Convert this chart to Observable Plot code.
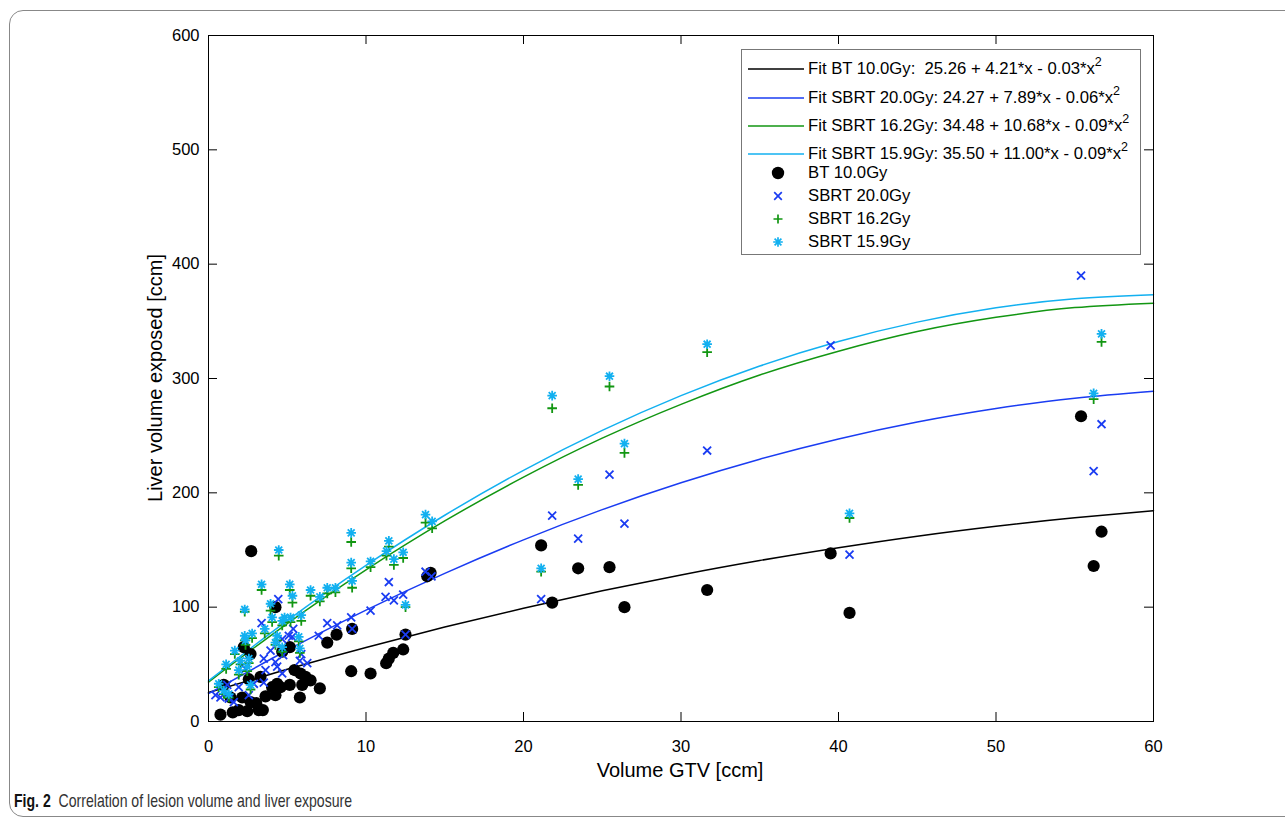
<!DOCTYPE html>
<html>
<head>
<meta charset="utf-8">
<script src="https://cdn.jsdelivr.net/npm/d3@7"></script>
<script src="https://cdn.jsdelivr.net/npm/@observablehq/plot@0.6"></script>
<style>
  html, body { margin: 0; padding: 0; background: #fff; width: 1285px; height: 820px; overflow: hidden; }
  #wrap { position: relative; width: 1285px; height: 820px; }
  #outer { position: absolute; left: 9px; top: 10px; width: 1300px; height: 805px; border: 1.3px solid #888; border-radius: 14px; }
  #chart { position: absolute; left: 0; top: 0; }
  #legend { position: absolute; left: 741px; top: 49px; width: 398px; height: 204px; border: 1px solid #777; background: #fff; font-family: "Liberation Sans", Arial, sans-serif; font-size: 16.7px; color: #000; }
  .row { position: absolute; left: 0; height: 22px; width: 396px; }
  .row svg { position: absolute; left: 6px; top: 0; }
  .row span { position: absolute; left: 66px; top: 1px; white-space: pre; line-height: 20px; }
  .row sup { font-size: 12.5px; vertical-align: 0; position: relative; top: -8px; }
  .axlabel { position: absolute; font-family: "Liberation Sans", Arial, sans-serif; font-size: 20px; color: #000; white-space: pre; }
  #xlabel { left: 680px; top: 770px; transform: translate(-50%, -50%); }
  #ylabel { left: 155px; top: 378px; transform: translate(-50%, -50%) rotate(-90deg); }
  #caption { position: absolute; left: 14px; top: 790px; font-family: "Liberation Sans", Arial, sans-serif; font-size: 19px; color: #333; white-space: pre; transform-origin: 0 0; }
  #caption b { color: #111; }
</style>
</head>
<body>
<div id="wrap">
  <div id="outer"></div>
  <div id="chart"></div>
  <div id="legend"></div>
  <div class="axlabel" id="xlabel"></div>
  <div class="axlabel" id="ylabel"></div>
  <div id="caption"><b>Fig. 2</b>  Correlation of lesion volume and liver exposure</div>
</div>
<script>
// ---------- data ----------
const xTicks = [0, 10, 20, 30, 40, 50, 60];
const yTicks = [0, 100, 200, 300, 400, 500, 600];
const xLabel = "Volume GTV [ccm]";
const yLabel = "Liver volume exposed [ccm]";

// BT 10.0Gy points [volume GTV, liver volume exposed]
const bt = [
  [0.76,6],[1.54,8],[1.92,10],[2.46,9],[3.19,10],[3.45,10],[2.67,17],[3.03,16],[2.14,21],[3.62,22],
  [4.25,23],[4.36,33],[4.04,30],[4.57,30],[0.97,32],[1.40,21],[2.24,65],[2.67,59],[4.25,100],[3.30,39],
  [2.56,37],[4.68,61],[5.16,65],[7.54,69],[8.13,76],[9.12,81],[9.06,44],[5.46,45],[5.84,42],[6.48,36],
  [5.95,32],[5.16,32],[7.07,29],[5.80,21],[6.16,39],[2.71,149],[13.89,127],[14.1,130],[12.51,76],[12.36,63],
  [11.73,60],[11.45,55],[11.28,51],[10.29,42],[21.12,154],[21.82,104],[23.47,134],[25.46,135],[26.41,100],
  [31.66,115],[39.5,147],[40.7,95],[55.4,267],[56.2,136],[56.7,166]
];

// SBRT 20.0Gy points
const sbrt20 = [
  [4.43,107],[3.37,86],[3.94,62],[4.68,72],[4.25,52],[3.51,55],[3.62,45],[2.88,33],[2.56,23],[1.92,30],
  [1.19,32],[0.44,23],[1.29,20],[1.61,17],[0.76,21],[2.35,46],[3.51,34],[4.36,48],[4.68,42],[5.38,81],
  [5.10,75],[5.31,74],[7.00,75],[7.54,86],[8.17,84],[9.06,91],[9.12,81],[5.89,59],[5.80,53],[6.27,51],
  [4.74,58],[11.45,122],[11.24,109],[11.77,106],[12.36,111],[10.29,97],[13.78,131],[14.16,127],[12.51,76],
  [21.12,107],[21.82,180],[23.47,160],[25.46,216],[26.41,173],[31.66,237],[39.5,329],[40.7,146],
  [55.4,390],[56.2,219],[56.7,260]
];

// SBRT 16.2Gy and SBRT 15.9Gy share the same lesions
const sbrtLowX = [
  4.46,9.06,9.06,9.12,11.45,13.78,14.2,10.29,11.30,11.77,12.36,7.54,8.06,12.51,3.37,2.30,3.94,4.04,4.68,3.57,
  2.30,2.77,2.35,4.36,4.25,1.67,2.56,2.03,2.46,1.12,1.92,0.65,1.29,0.97,2.67,4.68,5.16,5.33,6.48,7.07,
  5.21,5.89,5.73,5.80,4.83,21.12,21.82,23.47,25.46,26.41,31.66,40.7,56.2,56.7
];
const sbrt162Y = [
  145,157,134,117,153,174,169,135,145,137,143,112,113,100,115,96,97,87,84,77,
  71,73,67,71,67,59,51,50,44,46,41,30,21,24,28,61,115,104,110,105,
  87,88,70,60,87,131,274,207,293,235,323,178,282,332
];
const sbrt159Y = [
  150,165,139,123,158,181,175,140,149,142,148,117,117,102,120,98,103,91,88,81,
  75,77,71,75,69,62,55,53,48,50,45,33,24,27,32,65,120,110,115,109,
  91,93,74,64,91,134,285,212,302,243,330,182,287,339
];

// fitted curves, every 5 ccm
const fitX      = [0, 5, 10, 15, 20, 25, 30, 35, 40, 45, 50, 55, 60];
const fitBT     = [25.3, 45.7, 64.8, 82.6, 99.1, 114.3, 128.2, 140.8, 152.0, 162.1, 170.8, 178.2, 184.3];
const fitSB20   = [24.3, 62.3, 97.4, 129.6, 158.9, 185.3, 208.8, 229.4, 247.1, 261.9, 273.7, 282.8, 288.9];
const fitSB162  = [34.5, 85.7, 132.7, 175.4, 213.7, 247.8, 277.4, 303.1, 323.9, 341.1, 353.5, 362.0, 365.9];
const fitSB159  = [35.5, 88.3, 136.6, 180.4, 219.7, 254.6, 285.0, 310.9, 332.3, 349.3, 361.8, 369.8, 373.3];

const fitLabels = [
  "Fit BT 10.0Gy:  25.26 + 4.21*x - 0.03*x",
  "Fit SBRT 20.0Gy: 24.27 + 7.89*x - 0.06*x",
  "Fit SBRT 16.2Gy: 34.48 + 10.68*x - 0.09*x",
  "Fit SBRT 15.9Gy: 35.50 + 11.00*x - 0.09*x"
];
const pointLabels = ["BT 10.0Gy", "SBRT 20.0Gy", "SBRT 16.2Gy", "SBRT 15.9Gy"];
const colors = ["#000000", "#1a3cf2", "#129612", "#12b0f0"];

// ---------- chart ----------
const asterisk = {
  draw(context, size) {
    const r = Math.sqrt(size / Math.PI);
    const d = r * 0.72;
    context.moveTo(-r, 0); context.lineTo(r, 0);
    context.moveTo(0, -r); context.lineTo(0, r);
    context.moveTo(-d, -d); context.lineTo(d, d);
    context.moveTo(-d, d); context.lineTo(d, -d);
  }
};

const fitTable = (ys) => fitX.map((x, i) => ({x, y: ys[i]}));
const lowTable = (ys) => sbrtLowX.map((x, i) => ({x, y: ys[i]}));

const H = 785, MT = 35, MB = 64, ML = 208, MR = 132;
const innerH = H - MT - MB, innerW = 1285 - ML - MR;
const tick = 9;

const chart = Plot.plot({
  width: 1285,
  height: H,
  marginLeft: ML, marginRight: MR, marginTop: MT, marginBottom: MB,
  x: {domain: [0, 60]},
  y: {domain: [0, 600]},
  style: {fontFamily: "'Liberation Sans', Arial, sans-serif", fontSize: "16px", color: "#000", background: "transparent"},
  marks: [
    Plot.axisX({ticks: xTicks, tickSize: 0, tickPadding: 19, tickFormat: d => String(d), fontSize: 16.5, label: null}),
    Plot.axisY({ticks: yTicks, tickSize: 0, tickPadding: 9, tickFormat: d => String(d), fontSize: 16.5, label: null}),
    Plot.line(fitTable(fitBT),    {x: "x", y: "y", stroke: colors[0], strokeWidth: 1.5, curve: "natural"}),
    Plot.line(fitTable(fitSB20),  {x: "x", y: "y", stroke: colors[1], strokeWidth: 1.5, curve: "natural"}),
    Plot.line(fitTable(fitSB162), {x: "x", y: "y", stroke: colors[2], strokeWidth: 1.5, curve: "natural"}),
    Plot.line(fitTable(fitSB159), {x: "x", y: "y", stroke: colors[3], strokeWidth: 1.5, curve: "natural"}),
    Plot.dot(bt, {x: d => d[0], y: d => d[1], r: 6.1, fill: colors[0], stroke: "none"}),
    Plot.dot(sbrt20, {x: d => d[0], y: d => d[1], symbol: "times", r: 3.7, stroke: colors[1], strokeWidth: 1.8}),
    Plot.dot(lowTable(sbrt162Y), {x: "x", y: "y", symbol: "plus", r: 3.2, stroke: colors[2], strokeWidth: 1.8}),
    Plot.dot(lowTable(sbrt159Y), {x: "x", y: "y", symbol: asterisk, r: 4.8, stroke: colors[3], strokeWidth: 1.8}),
    Plot.frame({stroke: "#000", strokeWidth: 1}),
    Plot.ruleX(xTicks, {stroke: "#000", insetTop: innerH - tick}),
    Plot.ruleX(xTicks, {stroke: "#000", insetBottom: innerH - tick}),
    Plot.ruleY(yTicks, {stroke: "#000", insetRight: innerW - tick}),
    Plot.ruleY(yTicks, {stroke: "#000", insetLeft: innerW - tick})
  ]
});
document.getElementById("chart").appendChild(chart);
document.getElementById("xlabel").textContent = xLabel;
document.getElementById("ylabel").textContent = yLabel;

// ---------- legend ----------
const legend = document.getElementById("legend");
const rowCenters = [19, 48, 76, 104, 123, 146, 169, 192];
function addRow(i, svgInner, label, sup) {
  const row = document.createElement("div");
  row.className = "row";
  row.style.top = (rowCenters[i] - 11) + "px";
  row.innerHTML = `<svg width="58" height="22" viewBox="0 0 58 22">${svgInner}</svg><span>${label}${sup ? "<sup>2</sup>" : ""}</span>`;
  legend.appendChild(row);
}
fitLabels.forEach((t, i) => {
  addRow(i, `<line x1="0" x2="56" y1="11" y2="11" stroke="${colors[i]}" stroke-width="1.4"/>`, t, true);
});
const cx = 30;
addRow(4, `<circle cx="${cx}" cy="11" r="6.2" fill="${colors[0]}"/>`, pointLabels[0]);
addRow(5, `<path d="M${cx-3.8},7.2L${cx+3.8},14.8M${cx-3.8},14.8L${cx+3.8},7.2" stroke="${colors[1]}" stroke-width="1.7" fill="none"/>`, pointLabels[1]);
addRow(6, `<path d="M${cx-4.5},11H${cx+4.5}M${cx},6.5V15.5" stroke="${colors[2]}" stroke-width="1.7" fill="none"/>`, pointLabels[2]);
addRow(7, `<path d="M${cx-4.8},11H${cx+4.8}M${cx},6.2V15.8M${cx-3.4},7.6L${cx+3.4},14.4M${cx-3.4},14.4L${cx+3.4},7.6" stroke="${colors[3]}" stroke-width="1.7" fill="none"/>`, pointLabels[3]);

// caption: fit its width to the reference's narrow typeface
const cap = document.getElementById("caption");
const w = cap.getBoundingClientRect().width;
cap.style.transform = `scaleX(${(338 / w).toFixed(3)})`;
</script>
</body>
</html>
